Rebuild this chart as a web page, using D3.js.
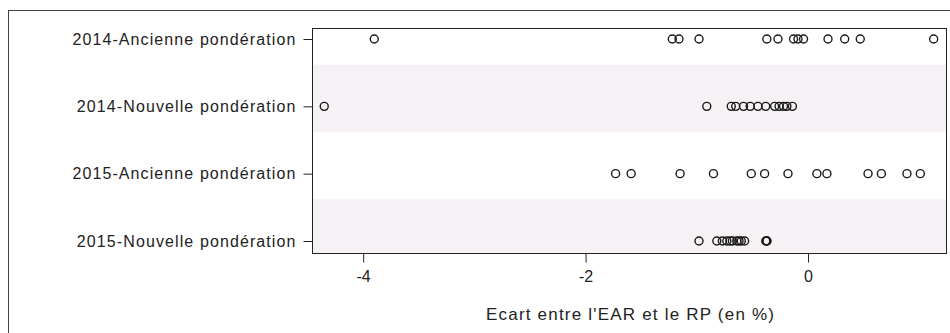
<!DOCTYPE html>
<html>
  <head>
    <meta charset="utf-8">
    <style>
      body { margin: 0; background: #fff; font-family: "Liberation Sans", Arial, sans-serif; }
      .frame { fill: none; stroke: #444; stroke-width: 1; }
      .dot { fill: none; stroke: #1a1a1a; stroke-width: 1.4; }
      .axis line, .axis path { stroke: #222; }
      .ylab { font-size: 16px; letter-spacing: 1.1px; fill: #222; }
      .xtick { font-size: 16px; fill: #222; }
      .xtitle { font-size: 17px; letter-spacing: 1.2px; fill: #222; }
    </style>
  </head>
  <body>
    <script src="https://d3js.org/d3.v7.min.js"></script>
    <script>
      // categories (top to bottom)
      var categories = [
        "2014-Ancienne pondération",
        "2014-Nouvelle pondération",
        "2015-Ancienne pondération",
        "2015-Nouvelle pondération"
      ];

      // ecart EAR vs RP (%) per category
      var ancienne2014 = [-3.90, -1.22, -1.16, -0.98, -0.37, -0.27, -0.13, -0.09, -0.04, 0.18, 0.33, 0.47, 1.13];
      var nouvelle2014 = [-4.35, -0.91, -0.69, -0.65, -0.58, -0.52, -0.45, -0.38, -0.30, -0.26, -0.22, -0.19, -0.14];
      var ancienne2015 = [-1.73, -1.59, -1.15, -0.85, -0.51, -0.39, -0.18, 0.08, 0.17, 0.54, 0.66, 0.89, 1.01];
      var nouvelle2015 = [-0.98, -0.82, -0.77, -0.73, -0.70, -0.68, -0.64, -0.62, -0.60, -0.57, -0.38, -0.37, -0.37];

      var xTicks = [-4, -2, 0];
      var xTitle = "Ecart entre l'EAR et le RP (en %)";

      var series = [ancienne2014, nouvelle2014, ancienne2015, nouvelle2015];

      var width = 950, height = 333;
      var plot = {left: 312, right: 947, top: 28, bottom: 253};

      var svg = d3.select("body").append("svg")
          .attr("width", width)
          .attr("height", height);

      // outer frame (runs off the picture on right and bottom)
      svg.append("rect")
          .attr("class", "frame")
          .attr("x", 8.5).attr("y", 10.5)
          .attr("width", 1000).attr("height", 1000);

      var x = d3.scaleLinear()
          .domain([-4.46, 1.25])
          .range([plot.left, plot.right]);

      var y = d3.scalePoint()
          .domain(categories)
          .range([39, 241]);

      var step = y.step();

      // alternating shaded bands (2nd and 4th rows)
      svg.append("g").selectAll("rect")
          .data(categories.filter(function(d, i) { return i % 2 == 1; }))
        .enter().append("rect")
          .attr("x", plot.left)
          .attr("width", plot.right - plot.left)
          .attr("y", function(d) { return Math.max(plot.top, y(d) - step / 2 - 8); })
          .attr("height", function(d) {
            var top = Math.max(plot.top, y(d) - step / 2 - 8);
            var bot = Math.min(plot.bottom, y(d) + step / 2 - 8);
            return bot - top;
          })
          .style("fill", "#f5f1f5");

      // dots
      var rows = svg.append("g").selectAll("g")
          .data(series)
        .enter().append("g")
          .attr("transform", function(d, i) { return "translate(0," + y(categories[i]) + ")"; });

      rows.selectAll("circle")
          .data(function(d) { return d; })
        .enter().append("circle")
          .attr("class", "dot")
          .attr("cx", function(d) { return x(d); })
          .attr("cy", 0)
          .attr("r", 4);

      // plot frame
      svg.append("rect")
          .attr("class", "frame")
          .style("stroke", "#222")
          .attr("x", plot.left + 0.5).attr("y", plot.top + 0.5)
          .attr("width", plot.right - plot.left - 1)
          .attr("height", plot.bottom - plot.top);

      // y axis
      var yAxis = svg.append("g")
          .attr("class", "axis")
          .attr("transform", "translate(" + (plot.left + 0.5) + ",0)")
          .call(d3.axisLeft(y).tickSize(9).tickPadding(7));
      yAxis.select(".domain").remove();
      yAxis.selectAll("text")
          .attr("class", "ylab")
          .attr("font-size", null)
          .attr("font-family", null);

      // x axis
      var xAxis = svg.append("g")
          .attr("class", "axis")
          .attr("transform", "translate(0," + (plot.bottom + 0.5) + ")")
          .call(d3.axisBottom(x).tickValues(xTicks).tickSize(9).tickPadding(8).tickFormat(d3.format("d")));
      xAxis.select(".domain").remove();
      xAxis.selectAll("text")
          .attr("class", "xtick")
          .attr("font-size", null)
          .attr("font-family", null)
          .text(function(d) { return d < 0 ? "-" + Math.abs(d) : d; });

      svg.append("text")
          .attr("class", "xtitle")
          .attr("x", (x(-4) + x(0)) / 2 + 45)
          .attr("y", 320)
          .attr("text-anchor", "middle")
          .text(xTitle);
    </script>
  </body>
</html>
